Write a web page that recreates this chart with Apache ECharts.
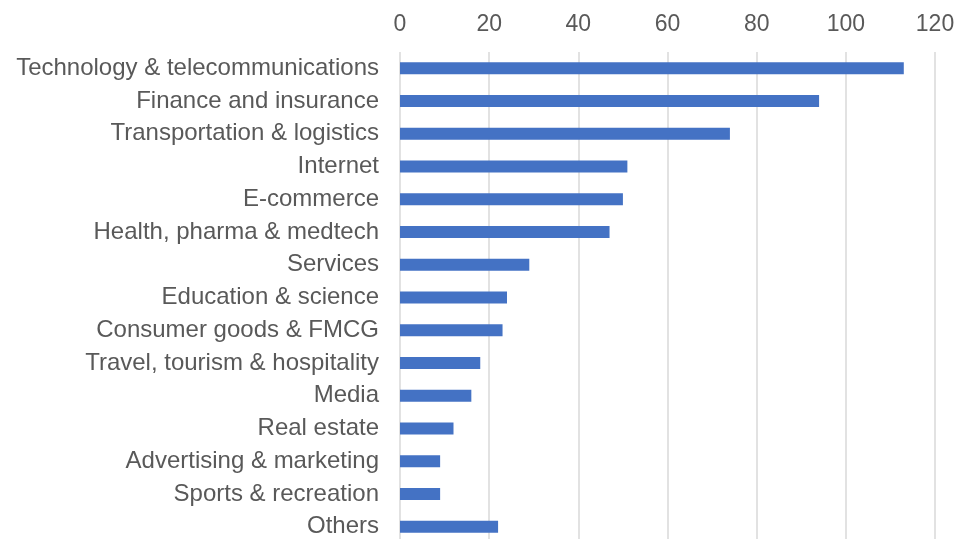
<!DOCTYPE html>
<html>
<head>
<meta charset="utf-8">
<script src="https://cdn.jsdelivr.net/npm/echarts@6/dist/echarts.min.js"></script>
<style>
  html, body { margin: 0; padding: 0; background: #fff; overflow: hidden; }
  /* canvas is a little taller than the window so the last row can sit at the edge */
  #chart { width: 959px; height: 545px; }
</style>
</head>
<body>
<div id="chart"></div>
<script>
// Industries, listed top to bottom
const categories = [
  'Technology & telecommunications',
  'Finance and insurance',
  'Transportation & logistics',
  'Internet',
  'E-commerce',
  'Health, pharma & medtech',
  'Services',
  'Education & science',
  'Consumer goods & FMCG',
  'Travel, tourism & hospitality',
  'Media',
  'Real estate',
  'Advertising & marketing',
  'Sports & recreation',
  'Others'
];

// Count per industry
const values = [113, 94, 74, 51, 50, 47, 29, 24, 23, 18, 16, 12, 9, 9, 22];

// Value axis ticks
const axisMin = 0;
const axisMax = 120;
const axisStep = 20;

const chart = echarts.init(document.getElementById('chart'), null, { renderer: 'canvas' });

const textColor = '#595959';
const font = 'Liberation Sans, Arial, sans-serif';

chart.setOption({
  animation: false,
  grid: { left: 400, right: 24, top: 52, height: 491, containLabel: false },
  xAxis: {
    type: 'value',
    position: 'top',
    min: axisMin,
    max: axisMax,
    interval: axisStep,
    axisLine: { show: false },
    axisTick: { show: false },
    axisLabel: { color: textColor, fontFamily: font, fontSize: 23, margin: 16 },
    splitLine: { show: true, lineStyle: { color: '#d9d9d9', width: 1.5 } }
  },
  yAxis: {
    type: 'category',
    data: categories,
    inverse: true,
    axisLine: { show: false },
    axisTick: { show: false },
    axisLabel: { color: textColor, fontFamily: font, fontSize: 24, margin: 21, padding: [2, 0, 0, 0] }
  },
  series: [{
    type: 'bar',
    data: values,
    barWidth: 12,
    itemStyle: { color: '#4472c4' }
  }]
});
</script>
</body>
</html>
